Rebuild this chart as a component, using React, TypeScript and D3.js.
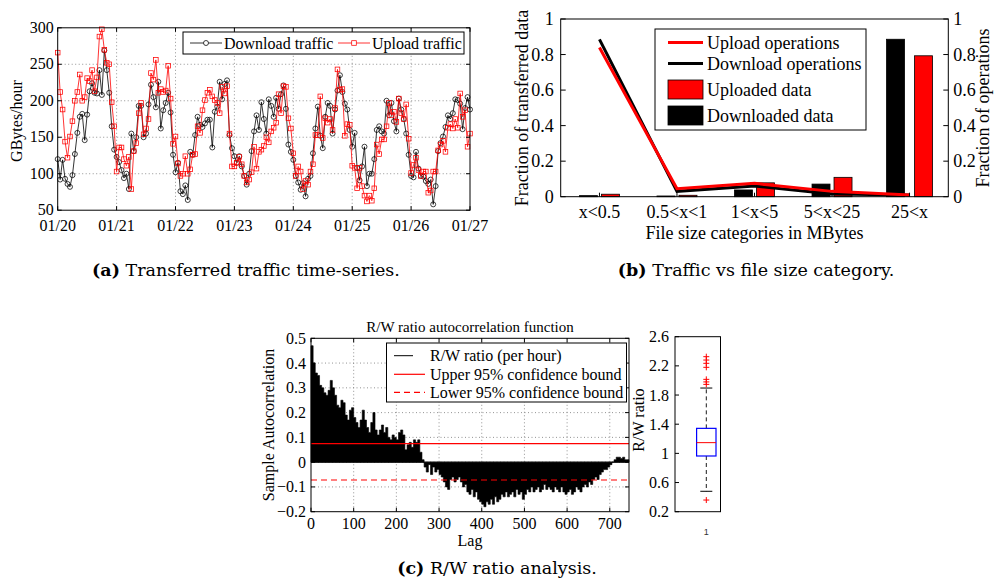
import React from 'react';
import * as d3 from 'd3';

// ---------------- Panel (a) data: hourly traffic, 01/20 00h .. 01/27 00h ----------------
const dayLabels = ['01/20', '01/21', '01/22', '01/23', '01/24', '01/25', '01/26', '01/27'];
const yTicksA = [50, 100, 150, 200, 250, 300];

const downloadTraffic = [
  120, 92, 119, 93, 86, 82, 98, 127, 156, 178, 182, 146, 181, 213, 224, 211, 210, 242, 208, 269, 242, 211, 165, 133,
  123, 116, 105, 94, 100, 79, 155, 131, 150, 193, 193, 150, 155, 195, 222, 205, 191, 226, 162, 187, 197, 211, 184, 126,
  102, 115, 76, 72, 84, 64, 130, 126, 153, 178, 167, 164, 169, 174, 174, 136, 185, 192, 226, 202, 223, 228, 153, 135,
  124, 115, 124, 110, 97, 85, 100, 131, 158, 180, 160, 198, 175, 155, 202, 193, 178, 204, 189, 209, 221, 189, 140, 130,
  119, 97, 88, 78, 87, 69, 93, 97, 128, 162, 192, 152, 135, 178, 197, 193, 155, 188, 214, 235, 212, 196, 188, 160,
  137, 156, 108, 91, 110, 137, 83, 100, 100, 120, 160, 165, 158, 155, 200, 180, 197, 172, 158, 203, 188, 175, 155, 126,
  97, 95, 130, 107, 97, 96, 90, 86, 92, 58, 83, 131, 142, 151, 164, 180, 175, 183, 202, 201, 196, 161, 190, 205,
  188,
];

const uploadTraffic = [
  266, 212, 188, 144, 122, 151, 172, 200, 212, 236, 200, 205, 231, 227, 242, 213, 232, 288, 298, 270, 252, 250, 198, 165,
  103, 136, 136, 120, 111, 123, 79, 131, 142, 183, 197, 154, 162, 175, 238, 229, 256, 211, 216, 212, 214, 248, 203, 141,
  151, 114, 97, 100, 124, 100, 106, 126, 127, 165, 156, 187, 201, 211, 215, 206, 201, 197, 183, 219, 210, 220, 155, 110,
  110, 115, 123, 113, 97, 88, 92, 102, 137, 107, 130, 133, 138, 150, 143, 158, 163, 170, 209, 183, 220, 219, 176, 162,
  128, 97, 110, 103, 79, 90, 85, 103, 113, 153, 153, 206, 149, 176, 170, 175, 160, 190, 243, 215, 216, 152, 168, 167,
  111, 108, 80, 108, 83, 70, 62, 70, 63, 80, 140, 127, 147, 147, 165, 197, 180, 185, 171, 203, 183, 175, 195, 148,
  101, 112, 122, 105, 97, 103, 103, 74, 77, 103, 103, 132, 140, 145, 130, 163, 168, 162, 175, 163, 210, 178, 187, 137,
  155,
];

// ---------------- Panel (b) data ----------------
const sizeCategories = ['x<0.5', '0.5<x<1', '1<x<5', '5<x<25', '25<x'];
const downloadedData = [0.006, 0.004, 0.038, 0.071, 0.886];
const uploadedData = [0.014, 0.008, 0.078, 0.109, 0.793];
const downloadOps = [0.885, 0.03, 0.06, 0.015, 0.01];
const uploadOps = [0.84, 0.045, 0.075, 0.03, 0.01];
const yTicksB = [0, 0.2, 0.4, 0.6, 0.8, 1];

// ---------------- Panel (c) data: ACF sampled every 5 lags ----------------
const acfStep = 5;
const acfValues = [
  0.47, 0.40, 0.36, 0.35, 0.31, 0.30, 0.28, 0.27, 0.29, 0.33,
  0.30, 0.27, 0.23, 0.22, 0.25, 0.24, 0.19, 0.17, 0.21, 0.22,
  0.18, 0.16, 0.14, 0.17, 0.21, 0.17, 0.14, 0.12, 0.16, 0.20,
  0.13, 0.11, 0.13, 0.15, 0.12, 0.14, 0.10, 0.09, 0.11, 0.10,
  0.09, 0.12, 0.13, 0.11, 0.05, 0.07, 0.08, 0.06, 0.09, 0.08,
  0.09, 0.04, 0.01, -0.02, -0.04, -0.01, -0.05, -0.02, -0.04, -0.03,
  -0.05, -0.06, -0.08, -0.10, -0.11, -0.07, -0.06, -0.08, -0.07, -0.06,
  -0.08, -0.10, -0.09, -0.12, -0.13, -0.11, -0.14, -0.12, -0.15, -0.16,
  -0.17, -0.18, -0.16, -0.17, -0.15, -0.17, -0.14, -0.16, -0.15, -0.13,
  -0.14, -0.12, -0.14, -0.13, -0.12, -0.14, -0.11, -0.13, -0.12, -0.15,
  -0.13, -0.11, -0.12, -0.10, -0.12, -0.11, -0.10, -0.12, -0.11, -0.09,
  -0.11, -0.10, -0.11, -0.12, -0.10, -0.11, -0.12, -0.10, -0.12, -0.13,
  -0.12, -0.11, -0.13, -0.12, -0.10, -0.11, -0.12, -0.10, -0.09, -0.10,
  -0.08, -0.09, -0.07, -0.06, -0.07, -0.05, -0.04, -0.03, -0.03, -0.02,
  -0.01, 0.0, 0.01, 0.02, 0.02, 0.015, 0.02, 0.01, 0.01, 0.005,
];
const confUpper = 0.075;
const confLower = -0.072;
const xTicksC = [0, 100, 200, 300, 400, 500, 600, 700];
const yTicksC = [-0.2, -0.1, 0, 0.1, 0.2, 0.3, 0.4, 0.5];

// Box plot of R/W ratio: [lower whisker, q1, median, q3, upper whisker]
const boxStats = [0.48, 0.964, 1.147, 1.343, 1.896];
const boxOutliers = [2.326, 2.28, 2.235, 2.18, 2.015, 1.98, 1.946, 0.36];
const yTicksBox = [0.2, 0.6, 1, 1.4, 1.8, 2.2, 2.6];

const serif = "'Liberation Serif','Times New Roman',serif";
const gridStyle = { stroke: '#777', strokeDasharray: '1 2.5', strokeWidth: 0.8 };

function fmt(v: number) {
  const s = d3.format('~g')(Math.round(v * 100) / 100);
  return s.replace('-', '\u2212');
}

export default function App() {
  // ---------- Panel A ----------
  const xA = d3.scaleLinear().domain([0, 168]).range([57.7, 470]);
  const yA = d3.scaleLinear().domain([50, 300]).range([210.2, 27.8]);
  const lineA = d3.line<number>().x((_, i) => xA(i)).y((d) => yA(d));
  const [aL, aR] = xA.range();
  const [aB, aT] = yA.range();

  // ---------- Panel B ----------
  const xB = d3.scaleLinear().domain([0.5, 5.5]).range([560.7, 948.3]);
  const yB = d3.scaleLinear().domain([0, 1]).range([196.7, 19]);
  const lineB = d3.line<number>().x((_, i) => xB(i + 1)).y((d) => yB(d));
  const barW = 18;
  const groupGap = [4, 4, 4, 4, 10];
  const [bL, bR] = xB.range();
  const [bB, bT] = yB.range();

  // ---------- Panel C ----------
  const xC = d3.scaleLinear().domain([0, 745]).range([311, 629]);
  const yC = d3.scaleLinear().domain([-0.2, 0.5]).range([511.7, 338.3]);
  const [cL, cR] = xC.range();
  const [cB, cT] = yC.range();
  const acfPoints = acfValues.map((v, i) => [i * acfStep, v] as [number, number]);
  acfPoints.push([745, acfValues[acfValues.length - 1]]);
  const acfArea = d3.area<[number, number]>()
    .x((d) => xC(d[0]))
    .y0(yC(0))
    .y1((d) => yC(d[1]))
    .curve(d3.curveStepAfter);

  // ---------- Box ----------
  const yBx = d3.scaleLinear().domain([0.2, 2.6]).range([511.7, 336.7]);
  const xBx = d3.scaleLinear().domain([0.5, 1.5]).range([675, 737.6]);
  const bxL = 675, bxR = 720.5;
  const bxC = xBx(1);
  const [lw, q1, med, q3, uw] = boxStats;

  return (
    <svg width={994} height={585} style={{ position: 'absolute', left: 0, top: 0, background: '#fff' }}
      fontFamily={serif}>
      <rect x={0} y={0} width={994} height={585} fill="#fff" />

      {/* ================= Panel A ================= */}
      <g>
        {yTicksA.filter((t) => t > 50 && t < 300).map((t) => (
          <line key={'ga' + t} x1={aL} x2={aR} y1={yA(t)} y2={yA(t)} {...gridStyle} />
        ))}
        {dayLabels.slice(1, -1).map((_, i) => (
          <line key={'gx' + i} x1={xA((i + 1) * 24)} x2={xA((i + 1) * 24)} y1={aT} y2={aB} {...gridStyle} />
        ))}
        <path d={lineA(downloadTraffic) || ''} fill="none" stroke="#000" strokeWidth={0.8} />
        {downloadTraffic.map((d, i) => (
          <circle key={'dc' + i} cx={xA(i)} cy={yA(d)} r={2.5} fill="none" stroke="#000" strokeWidth={0.75} />
        ))}
        <path d={lineA(uploadTraffic) || ''} fill="none" stroke="#f00" strokeWidth={0.8} />
        {uploadTraffic.map((d, i) => (
          <rect key={'us' + i} x={xA(i) - 2.3} y={yA(d) - 2.3} width={4.6} height={4.6} fill="none" stroke="#f00" strokeWidth={0.75} />
        ))}
        <rect x={aL} y={aT} width={aR - aL} height={aB - aT} fill="none" stroke="#000" strokeWidth={1} />
        {yTicksA.map((t) => (
          <g key={'ya' + t}>
            <line x1={aL} x2={aL + 4} y1={yA(t)} y2={yA(t)} stroke="#000" />
            <line x1={aR} x2={aR - 4} y1={yA(t)} y2={yA(t)} stroke="#000" />
            <text x={aL - 4} y={yA(t) + 5} fontSize={16} textAnchor="end">{t}</text>
          </g>
        ))}
        {dayLabels.map((lab, i) => (
          <g key={'xa' + i}>
            <line x1={xA(i * 24)} x2={xA(i * 24)} y1={aB} y2={aB - 4} stroke="#000" />
            <line x1={xA(i * 24)} x2={xA(i * 24)} y1={aT} y2={aT + 4} stroke="#000" />
            <text x={xA(i * 24)} y={230.5} fontSize={16} textAnchor="middle">{lab}</text>
          </g>
        ))}
        <text transform="translate(22,121) rotate(-90)" fontSize={16} textAnchor="middle">GBytes/hour</text>
        {/* legend */}
        <rect x={183} y={32} width={281} height={22} fill="#fff" stroke="#000" strokeWidth={1} />
        <line x1={190} x2={222} y1={43} y2={43} stroke="#000" strokeWidth={0.8} />
        <circle cx={206} cy={43} r={2.5} fill="#fff" stroke="#000" strokeWidth={0.75} />
        <text x={224} y={48.5} fontSize={16}>Download traffic</text>
        <line x1={338} x2={370} y1={43} y2={43} stroke="#f00" strokeWidth={0.8} />
        <rect x={351.7} y={40.7} width={4.6} height={4.6} fill="#fff" stroke="#f00" strokeWidth={0.75} />
        <text x={372} y={48.5} fontSize={16}>Upload traffic</text>
      </g>

      {/* ================= Panel B ================= */}
      <g>
        {sizeCategories.map((c, i) => {
          const cx = xB(i + 1);
          return (
            <g key={'bar' + i}>
              <rect x={cx - groupGap[i] / 2 - barW} y={yB(downloadedData[i])} width={barW}
                height={bB - yB(downloadedData[i])} fill="#000" stroke="#000" strokeWidth={0.8} />
              <rect x={cx + groupGap[i] / 2} y={yB(uploadedData[i])} width={barW}
                height={bB - yB(uploadedData[i])} fill="#f00" stroke="#000" strokeWidth={0.8} />
            </g>
          );
        })}
        <path d={lineB(downloadOps) || ''} fill="none" stroke="#000" strokeWidth={3} />
        <path d={lineB(uploadOps) || ''} fill="none" stroke="#f00" strokeWidth={3} />
        <rect x={bL} y={bT} width={bR - bL} height={bB - bT} fill="none" stroke="#000" strokeWidth={1} />
        {yTicksB.map((t) => (
          <g key={'yb' + t}>
            <line x1={bL} x2={bL + 5} y1={yB(t)} y2={yB(t)} stroke="#000" />
            <line x1={bR} x2={bR - 5} y1={yB(t)} y2={yB(t)} stroke="#000" />
            <text x={bL - 7} y={yB(t) + 6} fontSize={18} textAnchor="end">{fmt(t)}</text>
            <text x={bR + 5} y={yB(t) + 6} fontSize={18} textAnchor="start">{fmt(t)}</text>
          </g>
        ))}
        {sizeCategories.map((c, i) => (
          <g key={'xb' + i}>
            <line x1={xB(i + 1)} x2={xB(i + 1)} y1={bB} y2={bB - 4} stroke="#000" />
            <text x={xB(i + 1)} y={218} fontSize={18} textAnchor="middle">{c}</text>
          </g>
        ))}
        <text x={(bL + bR) / 2} y={238.5} fontSize={18} textAnchor="middle">File size categories in MBytes</text>
        <text transform="translate(528,108) rotate(-90)" fontSize={18} textAnchor="middle">Fraction of transferred data</text>
        <text transform="translate(989,108) rotate(-90)" fontSize={18} textAnchor="middle">Fraction of operations</text>
        {/* legend */}
        <rect x={655} y={29} width={211} height={101} fill="#fff" stroke="#000" strokeWidth={1} />
        <line x1={668} x2={703} y1={42.5} y2={42.5} stroke="#f00" strokeWidth={3} />
        <text x={707} y={48.5} fontSize={18}>Upload operations</text>
        <line x1={668} x2={703} y1={63.5} y2={63.5} stroke="#000" strokeWidth={3} />
        <text x={707} y={69.5} fontSize={18}>Download operations</text>
        <rect x={668} y={80} width={35} height={19} fill="#f00" stroke="#000" strokeWidth={0.8} />
        <text x={707} y={96} fontSize={18}>Uploaded data</text>
        <rect x={668} y={106} width={35} height={19} fill="#000" stroke="#000" strokeWidth={0.8} />
        <text x={707} y={122} fontSize={18}>Downloaded data</text>
      </g>

      {/* ================= Panel C ================= */}
      <g>
        {yTicksC.filter((t) => t > -0.2 && t < 0.5).map((t) => (
          <line key={'gc' + t} x1={cL} x2={cR} y1={yC(t)} y2={yC(t)} {...gridStyle} />
        ))}
        {xTicksC.filter((t) => t > 0).map((t) => (
          <line key={'gcx' + t} x1={xC(t)} x2={xC(t)} y1={cT} y2={cB} {...gridStyle} />
        ))}
        <path d={acfArea(acfPoints) || ''} fill="#000" stroke="#000" strokeWidth={0.6} />
        <line x1={cL} x2={cR} y1={yC(0)} y2={yC(0)} stroke="#000" strokeWidth={1} />
        <line x1={cL} x2={cR} y1={yC(confUpper)} y2={yC(confUpper)} stroke="#f00" strokeWidth={1.2} />
        <line x1={cL} x2={cR} y1={yC(confLower)} y2={yC(confLower)} stroke="#f00" strokeWidth={1.2} strokeDasharray="6 4" />
        <rect x={cL} y={cT} width={cR - cL} height={cB - cT} fill="none" stroke="#000" strokeWidth={1} />
        {yTicksC.map((t) => (
          <g key={'yc' + t}>
            <line x1={cL} x2={cL + 4} y1={yC(t)} y2={yC(t)} stroke="#000" />
            <line x1={cR} x2={cR - 4} y1={yC(t)} y2={yC(t)} stroke="#000" />
            <text x={306} y={yC(t) + 5.5} fontSize={16} textAnchor="end">{fmt(t)}</text>
          </g>
        ))}
        {xTicksC.map((t) => (
          <g key={'xc' + t}>
            <line x1={xC(t)} x2={xC(t)} y1={cB} y2={cB - 4} stroke="#000" />
            <line x1={xC(t)} x2={xC(t)} y1={cT} y2={cT + 4} stroke="#000" />
            <text x={xC(t)} y={528.5} fontSize={16} textAnchor="middle">{t}</text>
          </g>
        ))}
        <text x={(cL + cR) / 2} y={332} fontSize={15} textAnchor="middle">R/W ratio autocorrelation function</text>
        <text x={(cL + cR) / 2} y={545.5} fontSize={16} textAnchor="middle">Lag</text>
        <text transform={`translate(274,${(cT + cB) / 2}) rotate(-90)`} fontSize={16} textAnchor="middle">Sample Autocorrelation</text>
        {/* legend */}
        <rect x={386.5} y={343} width={240} height={59} fill="#fff" stroke="#000" strokeWidth={1} />
        <line x1={394} x2={413} y1={355.7} y2={355.7} stroke="#000" strokeWidth={1} />
        <text x={430} y={361} fontSize={16}>R/W ratio (per hour)</text>
        <line x1={394} x2={425} y1={374.3} y2={374.3} stroke="#f00" strokeWidth={1.2} />
        <text x={430} y={379.8} fontSize={16}>Upper 95% confidence bound</text>
        <line x1={394} x2={425} y1={392.3} y2={392.3} stroke="#f00" strokeWidth={1.2} strokeDasharray="6 4" />
        <text x={430} y={397.8} fontSize={16}>Lower 95% confidence bound</text>
      </g>

      {/* ================= Box plot ================= */}
      <g>
        <line x1={bxC} x2={bxC} y1={yBx(q3)} y2={yBx(uw)} stroke="#000" strokeDasharray="4 3" strokeWidth={0.9} />
        <line x1={bxC} x2={bxC} y1={yBx(q1)} y2={yBx(lw)} stroke="#000" strokeDasharray="4 3" strokeWidth={0.9} />
        <line x1={bxC - 6} x2={bxC + 6} y1={yBx(uw)} y2={yBx(uw)} stroke="#000" strokeWidth={1} />
        <line x1={bxC - 6} x2={bxC + 6} y1={yBx(lw)} y2={yBx(lw)} stroke="#000" strokeWidth={1} />
        <rect x={bxC - 9.7} y={yBx(q3)} width={19.4} height={yBx(q1) - yBx(q3)} fill="none" stroke="#00f" strokeWidth={1.2} />
        <line x1={bxC - 9.7} x2={bxC + 9.7} y1={yBx(med)} y2={yBx(med)} stroke="#f00" strokeWidth={1} />
        {boxOutliers.map((o, i) => (
          <g key={'out' + i} stroke="#f00" strokeWidth={1}>
            <line x1={bxC - 3} x2={bxC + 3} y1={yBx(o)} y2={yBx(o)} />
            <line x1={bxC} x2={bxC} y1={yBx(o) - 3} y2={yBx(o) + 3} />
          </g>
        ))}
        <rect x={bxL} y={yBx(2.6)} width={bxR - bxL} height={yBx(0.2) - yBx(2.6)} fill="none" stroke="#000" strokeWidth={1} />
        {yTicksBox.map((t) => (
          <g key={'ybx' + t}>
            <line x1={bxL} x2={bxL + 4} y1={yBx(t)} y2={yBx(t)} stroke="#000" />
            <text x={669} y={yBx(t) + 5.5} fontSize={16} textAnchor="end">{fmt(t)}</text>
          </g>
        ))}
        <text x={bxC} y={535} fontSize={9} textAnchor="middle" fontFamily="'Liberation Sans',Arial,sans-serif" fill="#333">1</text>
        <text transform="translate(644,420) rotate(-90)" fontSize={16} textAnchor="middle">R/W ratio</text>
      </g>

      {/* ================= Captions ================= */}
      <g fontFamily="'Palatino Linotype','Book Antiqua',Palatino,'DejaVu Serif',serif" fontSize={17.5}>
        <text x={246} y={276} textAnchor="middle"><tspan fontWeight="bold">(a)</tspan> Transferred traffic time-series.</text>
        <text x={756} y={276} textAnchor="middle"><tspan fontWeight="bold">(b)</tspan> Traffic vs file size category.</text>
        <text x={497} y={574} textAnchor="middle"><tspan fontWeight="bold">(c)</tspan> R/W ratio analysis.</text>
      </g>
    </svg>
  );
}
